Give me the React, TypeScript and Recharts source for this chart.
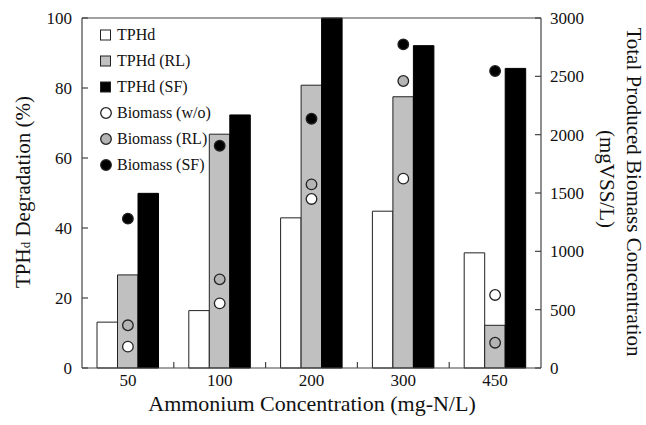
import React from 'react';
import {
  Bar,
  ComposedChart,
  Legend,
  ReferenceLine,
  Scatter,
  XAxis,
  YAxis,
} from 'recharts';

const categories = ['50', '100', '200', '300', '450'];
const tphd = [13.1, 16.4, 42.9, 44.8, 32.9];
const tphdRL = [26.6, 66.8, 80.8, 77.5, 12.2];
const tphdSF = [49.9, 72.3, 100, 92.1, 85.6];
const biomassWo = [183, 554, 1449, 1623, 626];
const biomassRL = [366, 760, 1574, 2460, 217];
const biomassSF = [1280, 1905, 2137, 2774, 2546];
const leftTicks = [0, 20, 40, 60, 80, 100];
const rightTicks = [0, 500, 1000, 1500, 2000, 2500, 3000];
const legendOrder = ['TPHd', 'TPHd (RL)', 'TPHd (SF)', 'Biomass (w/o)', 'Biomass (RL)', 'Biomass (SF)'];

const data = categories.map((c, i) => ({
  name: c,
  tphd: tphd[i],
  tphdRL: tphdRL[i],
  tphdSF: tphdSF[i],
  bioWo: biomassWo[i],
  bioRL: biomassRL[i],
  bioSF: biomassSF[i],
}));

const FONT = "'Liberation Serif', 'Times New Roman', Times, 'DejaVu Serif', serif";
const AXIS = '#444';
const W = 646;
const H = 425;
const margin = { top: 18, right: 55, bottom: 17, left: 32 };
const plotW = W - margin.left - margin.right - 50 - 50;
const step = plotW / categories.length;
const X_TICK_MARGIN = 6;

function LeftTick({ x, y, payload }: any) {
  const ax = x + 10;
  return (
    <g>
      <line x1={ax} x2={ax + 6} y1={y} y2={y} stroke={AXIS} strokeWidth={1.2} />
      <text x={x} y={y} dy="0.35em" textAnchor="end" fontSize={17} fontFamily={FONT} fill="#111">
        {payload.value}
      </text>
    </g>
  );
}

function RightTick({ x, y, payload }: any) {
  const ax = x - 9;
  return (
    <g>
      <line x1={ax} x2={ax - 6} y1={y} y2={y} stroke={AXIS} strokeWidth={1.2} />
      <text x={x} y={y} dy="0.35em" textAnchor="start" fontSize={17} fontFamily={FONT} fill="#111">
        {payload.value}
      </text>
    </g>
  );
}

function BottomTick({ x, y, payload, index }: any) {
  const ay = y - X_TICK_MARGIN;
  const bx = x - step / 2;
  return (
    <g>
      {index > 0 && <line x1={bx} x2={bx} y1={ay} y2={ay - 6} stroke={AXIS} strokeWidth={1.2} />}
      <text x={x} y={y} dy="0.71em" textAnchor="middle" fontSize={17} fontFamily={FONT} fill="#111">
        {payload.value}
      </text>
    </g>
  );
}

const dot = (fill: string) => (props: any) => (
  <circle cx={props.cx} cy={props.cy} r={5.3} fill={fill} stroke="#222" strokeWidth={1.3} />
);

function LegendBox({ payload }: any) {
  const items = [...(payload || [])].sort(
    (a: any, b: any) => legendOrder.indexOf(a.value) - legendOrder.indexOf(b.value),
  );
  return (
    <div style={{ fontFamily: FONT, fontSize: 16, color: '#111' }}>
      {items.map((e: any) => (
        <div key={e.value} style={{ display: 'flex', alignItems: 'center', height: 26 }}>
          <svg width={14} height={14} style={{ marginRight: 4 }}>
            {e.type === 'circle' ? (
              <circle cx={7} cy={7} r={5.3} fill={e.color} stroke="#222" strokeWidth={1.3} />
            ) : (
              <rect x={1.5} y={2} width={10} height={10} fill={e.color} stroke="#222" strokeWidth={1} />
            )}
          </svg>
          <span>{e.value}</span>
        </div>
      ))}
    </div>
  );
}

const titleStyle: React.CSSProperties = {
  position: 'absolute',
  whiteSpace: 'nowrap',
  fontFamily: FONT,
  fontSize: 21,
  lineHeight: 1,
  color: '#111',
};

export default function App() {
  return (
    <div style={{ position: 'absolute', left: 0, top: 0, width: W, height: H, background: '#fff' }}>
      <ComposedChart width={W} height={H} data={data} margin={margin} barGap={0}>
        <XAxis
          dataKey="name"
          height={40}
          axisLine={{ stroke: AXIS, strokeWidth: 1.2 }}
          tickLine={false}
          tickSize={0}
          tickMargin={X_TICK_MARGIN}
          tick={<BottomTick />}
          interval={0}
        />
        <YAxis
          yAxisId="left"
          width={50}
          domain={[0, 100]}
          ticks={leftTicks}
          axisLine={{ stroke: AXIS, strokeWidth: 1.2 }}
          tickLine={false}
          tickSize={0}
          tickMargin={10}
          tick={<LeftTick />}
        />
        <YAxis
          yAxisId="right"
          orientation="right"
          width={50}
          domain={[0, 3000]}
          ticks={rightTicks}
          axisLine={{ stroke: AXIS, strokeWidth: 1.2 }}
          tickLine={false}
          tickSize={0}
          tickMargin={9}
          tick={<RightTick />}
        />
        <Legend
          layout="vertical"
          align="center"
          verticalAlign="middle"
          wrapperStyle={{ left: 99, top: 22, width: 'auto' }}
          content={<LegendBox />}
        />
        <Bar yAxisId="left" dataKey="tphd" name="TPHd" fill="#ffffff" stroke="#222" strokeWidth={1} barSize={20.5} legendType="square" isAnimationActive={false} />
        <Bar yAxisId="left" dataKey="tphdRL" name="TPHd (RL)" fill="#c0c0c0" stroke="#222" strokeWidth={1} barSize={20.5} legendType="square" isAnimationActive={false} />
        <Bar yAxisId="left" dataKey="tphdSF" name="TPHd (SF)" fill="#000000" stroke="#000" strokeWidth={1} barSize={20.5} legendType="square" isAnimationActive={false} />
        <Scatter yAxisId="right" dataKey="bioWo" name="Biomass (w/o)" fill="#ffffff" shape={dot('#ffffff')} legendType="circle" isAnimationActive={false} />
        <Scatter yAxisId="right" dataKey="bioRL" name="Biomass (RL)" fill="#b4b4b4" shape={dot('#b4b4b4')} legendType="circle" isAnimationActive={false} />
        <Scatter yAxisId="right" dataKey="bioSF" name="Biomass (SF)" fill="#000000" shape={dot('#000000')} legendType="circle" isAnimationActive={false} />
        <ReferenceLine yAxisId="left" y={100} stroke={AXIS} strokeWidth={1.2} />
      </ComposedChart>
      <div style={{ ...titleStyle, left: 23, top: 192, transform: 'translate(-50%, -50%) rotate(-90deg)' }}>
        TPH<span style={{ fontSize: 13 }}>d</span> Degradation (%)
      </div>
      <div style={{ ...titleStyle, left: 633, top: 192, transform: 'translate(-50%, -50%) rotate(90deg)' }}>
        Total Produced Biomass Concentration
      </div>
      <div style={{ ...titleStyle, left: 606, top: 179, transform: 'translate(-50%, -50%) rotate(90deg)' }}>
        (mgVSS/L)
      </div>
      <div style={{ ...titleStyle, fontSize: 22, left: 312, top: 404, transform: 'translate(-50%, -50%)' }}>
        Ammonium Concentration (mg-N/L)
      </div>
    </div>
  );
}
